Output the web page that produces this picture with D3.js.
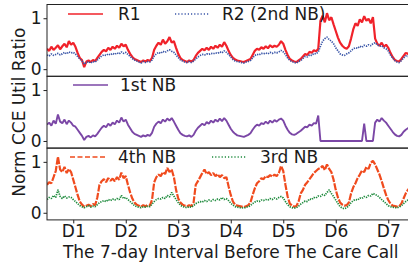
<!DOCTYPE html>
<html>
<head>
<meta charset="utf-8">
<script src="https://cdn.jsdelivr.net/npm/d3@7"></script>
<style>
  body { margin: 0; background: #fff; }
  text { font-family: "DejaVu Sans", sans-serif; fill: #1a1a1a; }
</style>
</head>
<body>
<script>
// 7-day CCE util ratio ~ three stacked panels

// hourly values (hour 0..167):
var r1 = [0.40,0.36,0.44,0.38,0.42,0.47,0.39,0.45,0.50,0.43,0.55,
    0.48,0.52,0.44, 0.32,0.22,0.18, 0.04, 0.15,0.17,0.14,0.18,0.16,0.22,
    0.28,0.34,0.38,0.35,0.42,0.38, 0.44,0.40,0.46,0.42,0.50,0.45,0.48,
    0.38,0.30,0.24,0.20,0.18, 0.16,0.14,0.17,0.15,0.18,0.16,0.22,
    0.38,0.46,0.52,0.48,0.58,0.50,0.55,0.63,0.52, 0.55,0.42,0.30,0.22,0.18,0.16,
    0.14,0.17,0.15,0.18, 0.26,0.32,0.36,0.40,0.37,0.42,
    0.38,0.44,0.40,0.46,0.42,0.48,0.44,0.53,0.46, 0.36,0.28,0.22,0.19,0.17,0.16,
    0.15,0.14,0.16,0.18,0.20,
    0.28,0.36,0.40,0.38,0.43,0.40,0.45,0.41,0.47,0.43,0.46,0.44,0.48, 0.55,0.50,
    0.38,0.28,0.20,0.17, 0.15,0.14,0.17,0.20,
    0.25,0.30,0.28,0.34,0.32,0.37,0.35,0.40, 0.95,
    1.05,0.92,1.10,0.96,1.02,0.88, 0.75,0.62,0.52,0.46, 0.42,0.40,0.45,
    0.60,0.78,0.90,0.85,0.98,0.92,1.04,0.95,0.99,0.90,1.02, 0.60,
    0.50,0.46,0.52,0.44,0.48,0.42, 0.32,0.24,0.18,0.16,0.15,
    0.20,0.26,0.32,0.30,0.36,0.34];

var r2 = [0.28,0.26,0.30,0.27,0.29,0.31,0.28,0.30,0.33,0.30,0.34,
    0.32,0.33,0.30, 0.25,0.20,0.16, 0.10, 0.13,0.15,0.12,0.15,0.14,0.18,
    0.22,0.26,0.28,0.27,0.30,0.28, 0.31,0.29,0.32,0.30,0.34,0.31,0.33,
    0.29,0.25,0.21,0.18,0.16, 0.14,0.12,0.15,0.13,0.15,0.14,0.18,
    0.26,0.30,0.33,0.31,0.35,0.33,0.36,0.38,0.35, 0.33,0.28,0.23,0.18,0.16,0.14,
    0.13,0.15,0.13,0.16, 0.20,0.24,0.27,0.29,0.28,0.30,
    0.29,0.31,0.30,0.32,0.31,0.34,0.32,0.36,0.33, 0.29,0.24,0.19,0.16,0.15,0.14,
    0.13,0.12,0.14,0.15,0.17,
    0.22,0.27,0.29,0.28,0.31,0.30,0.32,0.30,0.33,0.31,0.33,0.32,0.34, 0.37,0.34,
    0.29,0.22,0.17,0.15, 0.13,0.12,0.15,0.17,
    0.21,0.25,0.24,0.28,0.27,0.31,0.30,0.34, 0.45,
    0.55,0.60,0.63,0.58,0.55,0.50, 0.42,0.36,0.30,0.28, 0.27,0.30,0.32,
    0.36,0.40,0.42,0.41,0.45,0.43,0.47,0.45,0.48,0.46,0.50, 0.52,
    0.48,0.45,0.46,0.42,0.40,0.36, 0.28,0.22,0.17,0.14,0.13,
    0.17,0.22,0.26,0.25,0.29,0.28];

var nb1 = [0.32,0.36,0.30,0.40,0.34,0.52,0.38,0.35,0.42,0.33,0.40,
    0.36,0.30,0.28, 0.22,0.16,0.10, 0.02, 0.08,0.10,0.07,0.11,0.09,0.14,
    0.20,0.26,0.30,0.27,0.34,0.30, 0.36,0.33,0.40,0.36,0.46,0.38,0.42,
    0.32,0.25,0.18,0.14,0.12, 0.10,0.08,0.11,0.09,0.12,0.10,0.16,
    0.28,0.34,0.38,0.35,0.42,0.38,0.44,0.40,0.45, 0.38,0.30,0.22,0.15,0.12,0.10,
    0.09,0.11,0.08,0.12, 0.20,0.26,0.30,0.34,0.31,0.37,
    0.34,0.40,0.36,0.42,0.38,0.44,0.39,0.45,0.40, 0.32,0.24,0.18,0.14,0.11,0.10,
    0.09,0.08,0.10,0.12,0.15,
    0.22,0.28,0.32,0.30,0.35,0.33,0.38,0.34,0.40,0.36,0.41,0.38,0.42, 0.44,0.40,
    0.30,0.22,0.16,0.13, 0.12,0.14,0.17,0.20,
    0.24,0.28,0.27,0.32,0.30,0.35,0.34,0.50, 0.00,
    0.00,0.00,0.00,0.00,0.00,0.00, 0.00,0.00,0.00,0.00, 0.00,0.00,0.00,
    0.00,0.00,0.00,0.00,0.00,0.00,0.34,0.00,0.00,0.00,0.00, 0.36,
    0.42,0.38,0.45,0.40,0.36,0.30, 0.24,0.18,0.13,0.10,0.09,
    0.12,0.18,0.22,0.25,0.28,0.30];

var nb4 = [0.55,0.60,0.58,0.70,0.82,1.10,0.85,0.80,0.90,0.78,0.86,
    0.80,0.65,0.50, 0.35,0.22,0.16, 0.12, 0.14,0.16,0.13,0.17,0.15,0.30,
    0.55,0.62,0.66,0.60,0.68,0.63, 0.67,0.62,0.70,0.65,0.79,0.68,0.72,
    0.55,0.40,0.28,0.20,0.16, 0.14,0.12,0.15,0.13,0.15,0.14,0.25,
    0.60,0.70,0.75,0.72,0.80,0.76,0.88,0.80,0.85, 0.70,0.45,0.28,0.20,0.16,0.14,
    0.13,0.15,0.13,0.20, 0.55,0.62,0.70,0.78,0.85,0.76,
    0.80,0.74,0.78,0.72,0.76,0.70,0.74,0.68,0.70, 0.52,0.35,0.22,0.16,0.14,0.13,
    0.12,0.11,0.13,0.15,0.20,
    0.35,0.48,0.58,0.62,0.68,0.66,0.72,0.70,0.74,0.71,0.75,0.72,0.78, 0.92,0.82,
    0.55,0.32,0.18,0.14, 0.12,0.13,0.22,0.38,
    0.45,0.55,0.60,0.66,0.72,0.78,0.82,0.86,
    0.88,0.92,0.84,0.95,0.86,0.80,0.65, 0.45,0.30,0.20,0.16, 0.14,0.15,0.20,
    0.38,0.50,0.58,0.68,0.75,0.83,0.80,0.90,0.86,0.98,1.02,
    0.95,0.85,0.75,0.62,0.48,0.35,0.25, 0.18,0.14,0.13,0.12,0.13,
    0.18,0.28,0.38,0.45,0.50,0.55];

var nb3 = [0.26,0.30,0.28,0.34,0.30,0.45,0.32,0.28,0.33,0.29,0.31,
    0.30,0.26,0.22, 0.18,0.14,0.12, 0.10, 0.12,0.14,0.11,0.13,0.12,0.16,
    0.20,0.22,0.24,0.22,0.26,0.24, 0.27,0.25,0.28,0.26,0.34,0.28,0.30,
    0.26,0.22,0.18,0.14,0.12, 0.11,0.10,0.12,0.11,0.13,0.12,0.17,
    0.22,0.26,0.28,0.27,0.30,0.28,0.34,0.31,0.40, 0.33,0.26,0.20,0.15,0.12,0.11,
    0.10,0.12,0.11,0.14, 0.18,0.20,0.22,0.21,0.24,0.22,
    0.25,0.23,0.26,0.24,0.27,0.25,0.30,0.26,0.28, 0.24,0.19,0.15,0.12,0.11,0.10,
    0.10,0.09,0.11,0.12,0.14,
    0.18,0.21,0.23,0.22,0.25,0.24,0.26,0.25,0.28,0.26,0.29,0.27,0.30, 0.32,0.29,
    0.22,0.16,0.12,0.10, 0.09,0.10,0.13,0.17,
    0.20,0.23,0.22,0.27,0.26,0.30,0.29,0.33,
    0.32,0.36,0.34,0.40,0.45,0.38,0.32, 0.25,0.18,0.12,0.09, 0.08,0.10,0.14,
    0.20,0.24,0.26,0.25,0.29,0.28,0.32,0.30,0.34,0.33,0.38,
    0.36,0.34,0.30,0.26,0.22,0.18,0.14, 0.12,0.11,0.10,0.10,0.11,
    0.14,0.18,0.22,0.25,0.27,0.28];

// x ticks (hour of each day's middle) + labels:
var dayTickHours = [12, 36, 60, 84, 108, 132, 156];
var dayLabels = ["D1", "D2", "D3", "D4", "D5", "D6", "D7"];
var yTickValues = [0, 1];

(function () {

    var width = 408, height = 264;
    var left = 47, plotRight = 414.5, top = 4.5, panelH = 71.8;

    // series styling + legend spots per panel:
    var panels = [
        { series: [
            { name: "R1", data: r1, color: "#f0222a", dash: null, w: 2.2, legDash: null, lx: 68, tx: 118 },
            { name: "R2 (2nd NB)", data: r2, color: "#3a56a8", dash: "1.3,1.1", w: 1.7, legDash: "1.2,2", lx: 175, tx: 222 }
          ], ly: 14 },
        { series: [
            { name: "1st NB", data: nb1, color: "#7b47a6", dash: null, w: 1.9, legDash: null, lx: 73, tx: 120 }
          ], ly: 85 },
        { series: [
            { name: "4th NB", data: nb4, color: "#f04b1e", dash: "7,1.4", w: 2.2, legDash: "5,2.5", lx: 70, tx: 118 },
            { name: "3rd NB", data: nb3, color: "#1d8a3c", dash: "1.3,1.1", w: 1.7, legDash: "1.2,2", lx: 212, tx: 260 }
          ], ly: 157 }
    ];

    var svg = d3.select("body")
        .append("svg")
        .attr("width", width)
        .attr("height", height);

    var x = d3.scaleLinear()
        .domain([0, 168])
        .range([left, plotRight]);

    panels.forEach(function (p, k) {
        var y0 = top + k * panelH;
        var y = d3.scaleLinear()
            .domain([-0.14, 1.27])
            .range([y0 + panelH, y0]);

        // clip to the panel box:
        svg.append("clipPath")
            .attr("id", "clip" + k)
            .append("rect")
            .attr("x", left)
            .attr("y", y0)
            .attr("width", plotRight - left)
            .attr("height", panelH);

        var line = d3.line()
            .x(function (d, i) { return x(i); })
            .y(function (d) { return y(d); });

        var g = svg.append("g").attr("clip-path", "url(#clip" + k + ")");
        p.series.forEach(function (s) {
            g.append("path")
                .datum(s.data)
                .attr("d", line)
                .attr("fill", "none")
                .attr("stroke", s.color)
                .attr("stroke-width", s.w)
                .attr("stroke-linejoin", "bevel")
                .attr("stroke-dasharray", s.dash);
        });

        // y axis (0 and 1 only):
        var yAxis = svg.append("g")
            .attr("transform", "translate(" + left + ",0)")
            .call(d3.axisLeft(y).tickValues(yTickValues).tickFormat(d3.format("d"))
                .tickSize(3.5).tickPadding(2));
        yAxis.select(".domain").remove();
        yAxis.selectAll("text").style("font-size", "17px");
        yAxis.selectAll("line").attr("stroke", "#222");

        // x axis on the last panel:
        if (k == panels.length - 1) {
            var xAxis = svg.append("g")
                .attr("transform", "translate(0," + (y0 + panelH) + ")")
                .call(d3.axisBottom(x).tickValues(dayTickHours)
                    .tickFormat(function (d, i) { return dayLabels[i]; })
                    .tickSize(3.5).tickPadding(2));
            xAxis.select(".domain").remove();
            xAxis.selectAll("text").style("font-size", "17px");
            xAxis.selectAll("line").attr("stroke", "#222");
        }

        // panel frame:
        svg.append("rect")
            .attr("x", left)
            .attr("y", y0)
            .attr("width", plotRight - left)
            .attr("height", panelH)
            .attr("fill", "none")
            .attr("stroke", "#222")
            .attr("stroke-width", 1);

        // legend, no box:
        p.series.forEach(function (s) {
            svg.append("line")
                .attr("x1", s.lx)
                .attr("x2", s.lx + 35)
                .attr("y1", p.ly)
                .attr("y2", p.ly)
                .attr("stroke", s.color)
                .attr("stroke-width", 1.4)
                .attr("stroke-dasharray", s.legDash);
            svg.append("text")
                .attr("x", s.tx)
                .attr("y", p.ly + 6)
                .style("font-size", "17px")
                .text(s.name);
        });
    });

    // axis titles:
    svg.append("text")
        .attr("x", (left + plotRight) / 2)
        .attr("y", 258)
        .attr("text-anchor", "middle")
        .style("font-size", "17px")
        .text("The 7-day Interval Before The Care Call");

    svg.append("text")
        .attr("transform", "translate(19," + (top + 1.5 * panelH) + ") rotate(-90)")
        .attr("text-anchor", "middle")
        .attr("dominant-baseline", "central")
        .style("font-size", "17px")
        .text("Norm CCE Util Ratio");

})();
</script>
</body>
</html>
